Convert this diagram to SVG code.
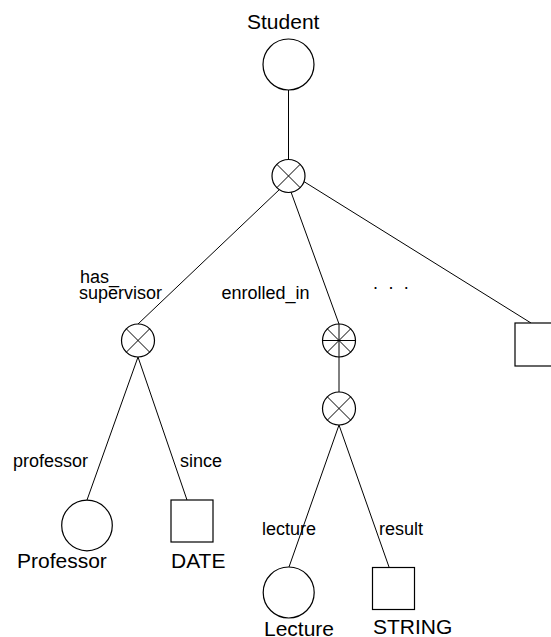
<svg xmlns="http://www.w3.org/2000/svg" width="551" height="637" viewBox="0 0 551 637">
  <style>
    .edge { stroke: #000; stroke-width: 1; fill: none; }
    .shape { stroke: #000; stroke-width: 1.2; fill: #fff; }
    .mark { stroke: #000; stroke-width: 1; fill: none; }
    .big { font-family: "Liberation Sans", Arial, sans-serif; font-size: 21px; fill: #000; }
    .lbl { font-family: "Liberation Sans", Arial, sans-serif; font-size: 18px; fill: #000; }
  </style>
  <defs>
    <!-- aggregation node: circle with a diagonal cross -->
    <g id="cross">
      <circle class="shape" cx="0" cy="0" r="16.5"/>
      <path class="mark" d="M-11.7,-11.7 L11.7,11.7 M-11.7,11.7 L11.7,-11.7"/>
    </g>
    <!-- set node: circle with a star of four lines -->
    <g id="star">
      <circle class="shape" cx="0" cy="0" r="16.5"/>
      <path class="mark" d="M-11.7,-11.7 L11.7,11.7 M-11.7,11.7 L11.7,-11.7 M-16.5,0 L16.5,0 M0,-16.5 L0,16.5"/>
    </g>
  </defs>

  <g id="connectors">
    <line class="edge" x1="288.5" y1="90" x2="288.5" y2="160"/>
    <line class="edge" x1="280" y1="189" x2="138" y2="324"/>
    <line class="edge" x1="291" y1="192" x2="339" y2="324"/>
    <line class="edge" x1="303" y1="181" x2="531" y2="323"/>
    <line class="edge" x1="138" y1="357" x2="87" y2="500"/>
    <line class="edge" x1="138" y1="357" x2="187" y2="500"/>
    <line class="edge" x1="339" y1="357" x2="339" y2="392"/>
    <line class="edge" x1="339" y1="425" x2="289" y2="567"/>
    <line class="edge" x1="339" y1="425" x2="389" y2="567"/>
  </g>

  <g id="edge-labels">
    <text class="lbl" x="80" y="282.5">has_</text>
    <text class="lbl" x="79" y="299">supervisor</text>
    <text class="lbl" x="221.5" y="298.5">enrolled_in</text>
    <text class="lbl" x="373" y="289" letter-spacing="2.7">. . .</text>
    <text class="lbl" x="13" y="467">professor</text>
    <text class="lbl" x="180" y="467">since</text>
    <text class="lbl" x="262" y="535">lecture</text>
    <text class="lbl" x="379" y="535">result</text>
  </g>

  <g id="student">
    <circle class="shape" cx="288.5" cy="64.5" r="25.5"/>
    <text class="big" x="247" y="29">Student</text>
  </g>

  <g id="student-agg">
    <use href="#cross" x="288.5" y="176"/>
  </g>

  <g id="supervision">
    <use href="#cross" x="138" y="340.5"/>
  </g>

  <g id="enrollments">
    <use href="#star" x="339" y="340.5"/>
  </g>

  <g id="enrollment">
    <use href="#cross" x="339" y="408.5"/>
  </g>

  <g id="other-attr">
    <rect class="shape" x="515" y="323" width="42" height="43"/>
  </g>

  <g id="professor">
    <circle class="shape" cx="87" cy="525.5" r="25.3"/>
    <text class="big" x="17" y="567.5">Professor</text>
  </g>

  <g id="date">
    <rect class="shape" x="171" y="500" width="42" height="42"/>
    <text class="big" x="171" y="567.5">DATE</text>
  </g>

  <g id="lecture">
    <circle class="shape" cx="288.7" cy="592.5" r="25.5"/>
    <text class="big" x="264" y="635.5">Lecture</text>
  </g>

  <g id="string">
    <rect class="shape" x="372.5" y="567.5" width="42" height="42"/>
    <text class="big" x="373" y="633.5">STRING</text>
  </g>
</svg>
